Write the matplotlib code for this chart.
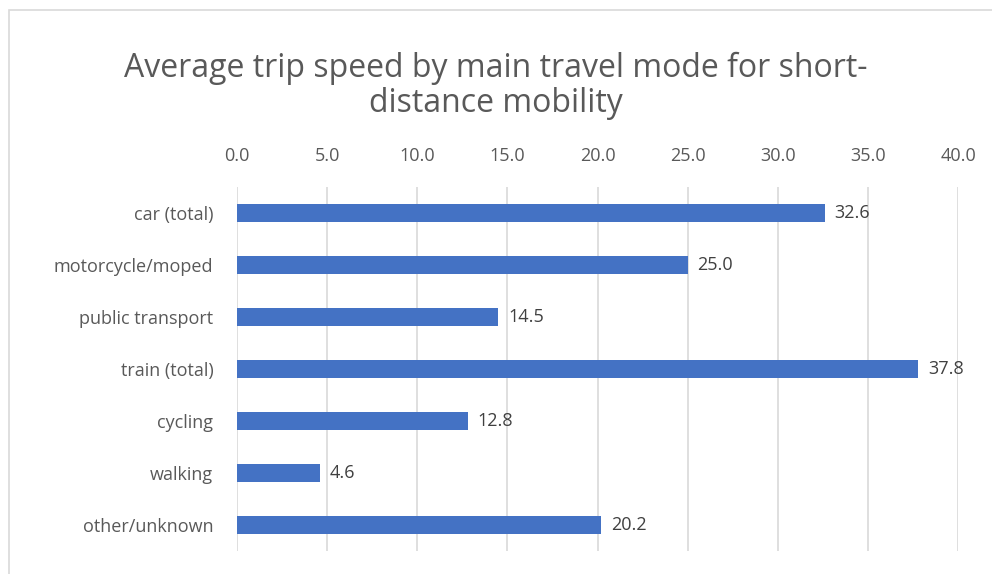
import matplotlib
matplotlib.use("Agg")
import matplotlib.pyplot as plt
from matplotlib.patches import Rectangle

plt.rcParams['font.family'] = ['Open Sans', 'DejaVu Sans']

modes = ["car (total)", "motorcycle/moped", "public transport", "train (total)",
         "cycling", "walking", "other/unknown"]
speeds = [32.6, 25.0, 14.5, 37.8, 12.8, 4.6, 20.2]
xticks = [0, 5, 10, 15, 20, 25, 30, 35, 40]

text_color = "#595959"
bar_color = "#4472C4"
grid_color = "#D9D9D9"

fig = plt.figure(figsize=(9.92, 5.74), dpi=100)
ax = fig.add_axes([237 / 992, 1 - 551 / 574, (958 - 237) / 992, (551 - 187) / 574])

# рамка вокруг диаграммы
fig.patches.append(Rectangle((9 / 992, -0.1), 1.2, 1 - 10 / 574 + 0.1,
                             transform=fig.transFigure, fill=False,
                             edgecolor=grid_color, linewidth=1.2))

y = range(len(modes))
ax.barh(y, speeds, height=0.35, color=bar_color, zorder=3)
for yi, v in zip(y, speeds):
    ax.text(v + 0.55, yi, f"{v:.1f}", va="center", ha="left",
            fontsize=13, color="#404040")

ax.set_xlim(0, 40)
ax.set_ylim(len(modes) - 0.5, -0.5)
ax.set_xticks(xticks)
ax.set_xticklabels([f"{t:.1f}" for t in xticks])
ax.set_yticks(list(y))
ax.set_yticklabels(modes)
ax.xaxis.tick_top()
ax.tick_params(axis="both", length=0, labelsize=13, labelcolor=text_color)
ax.tick_params(axis="x", pad=16)
ax.tick_params(axis="y", pad=17)
ax.grid(axis="x", color=grid_color, linewidth=1.2, zorder=0)
for s in ax.spines.values():
    s.set_visible(False)

fig.text(0.5, 1 - 68 / 574, "Average trip speed by main travel mode for short-",
         ha="center", va="center", fontsize=23, color=text_color)
fig.text(0.5, 1 - 103 / 574, "distance mobility",
         ha="center", va="center", fontsize=23, color=text_color)

fig.savefig("out.png", dpi=100)
